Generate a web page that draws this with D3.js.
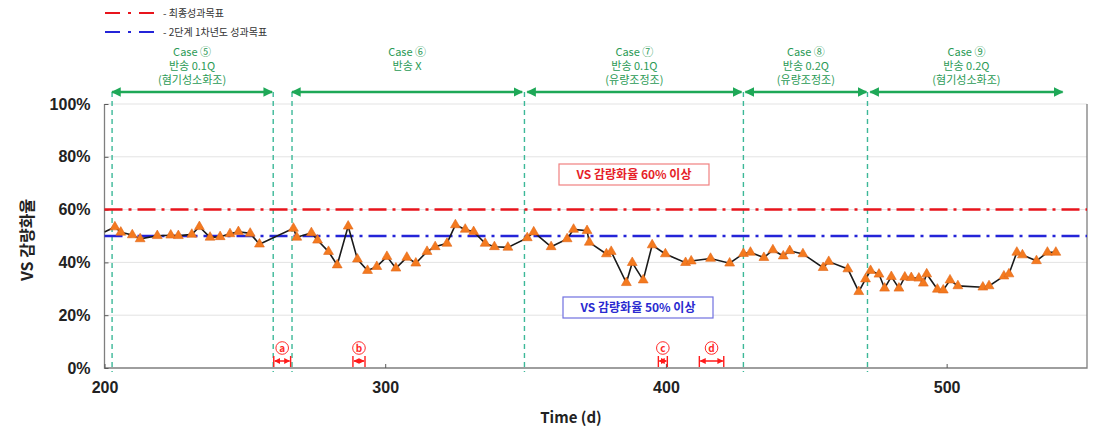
<!DOCTYPE html>
<html>
<head>
<meta charset="utf-8">
<script src="https://cdn.jsdelivr.net/npm/d3@7"></script>
<style>
  body { margin: 0; background: #fff; }
  svg { font-family: "Noto Sans CJK KR", "Noto Sans", sans-serif; }
</style>
</head>
<body>
<div id="chart"></div>
<script>
// measured VS reduction (%), by day
var days = [200.0, 203.7, 205.8, 209.9, 212.7, 218.8, 223.6, 226.3, 231.1, 233.8, 237.6, 241.2, 244.7, 247.7, 251.9, 255.2,
  267.3, 268.5, 273.7, 275.9, 279.8, 282.9, 286.8, 290.1, 293.7, 297.0, 300.6, 303.8, 307.7, 310.9, 314.9, 317.8, 322.0,
  325.0, 328.5, 331.5, 335.6, 338.9, 343.7, 350.6, 352.9, 359.1, 364.8, 367.1, 371.9, 372.7, 378.8, 380.5, 385.9, 388.0,
  391.9, 395.1, 399.8, 407.0, 409.0, 415.9, 422.7, 427.6, 430.1, 434.9, 438.1, 441.8, 444.1, 448.8, 456.0, 458.0, 464.8,
  468.7, 471.1, 472.9, 475.9, 477.9, 480.3, 483.0, 485.1, 487.4, 490.1, 491.7, 492.9, 496.7, 498.8, 501.2, 504.0, 512.9,
  515.1, 520.4, 522.2, 525.0, 527.0, 532.0, 535.9, 538.9];
var vsRate = [51.5, 53.4, 51.4, 50.4, 48.9, 50.1, 50.3, 50.1, 50.6, 53.5, 49.5, 49.7, 50.8, 51.6, 51.0, 46.9,
  52.9, 49.5, 51.2, 48.4, 44.1, 39.0, 53.7, 41.2, 36.9, 38.4, 42.2, 37.8, 41.9, 39.7, 44.1, 45.9, 47.2,
  54.2, 52.5, 51.6, 47.2, 45.9, 45.7, 49.3, 51.5, 45.9, 48.9, 52.5, 52.0, 47.6, 43.2, 44.1, 32.3, 39.9,
  33.3, 46.6, 43.2, 39.9, 40.5, 41.5, 39.7, 43.3, 43.8, 41.8, 44.7, 42.4, 44.4, 43.2, 38.0, 40.3, 37.5,
  28.9, 33.7, 36.9, 35.5, 30.2, 34.6, 30.2, 34.4, 34.2, 34.0, 32.1, 35.6, 29.8, 29.5, 33.3, 31.1, 30.6,
  31.1, 34.8, 35.6, 43.8, 42.8, 40.6, 43.8, 43.8];

// targets
var finalTarget = 60;
var stageTarget = 50;

// case periods
var caseStart = [202.7, 266.8, 350.6, 428.3, 472.8];
var caseEnd = [259.7, 348.8, 426.9, 471.4, 541.3];
var caseLabels = [
  ["Case ⑤", "반송 0.1Q", "(혐기성소화조)"],
  ["Case ⑥", "반송 X"],
  ["Case ⑦", "반송 0.1Q", "(유량조정조)"],
  ["Case ⑧", "반송 0.2Q", "(유량조정조)"],
  ["Case ⑨", "반송 0.2Q", "(혐기성소화조)"]
];
var caseDividers = [202.7, 260.1, 266.8, 349.6, 427.6, 471.8];

// red event markers
var eventNames = ["a", "b", "c", "d"];
var eventStart = [260.3, 288.5, 397.3, 411.9];
var eventEnd = [266.3, 292.8, 400.5, 420.6];

var xTicks = [200, 300, 400, 500];
var yTicks = [0, 20, 40, 60, 80, 100];

var width = 1099, height = 448;
var svg = d3.select("#chart").append("svg").attr("width", width).attr("height", height);

var x = d3.scaleLinear().domain([200, 550]).range([104.5, 1087]);
var y = d3.scaleLinear().domain([0, 100]).range([368, 104]);

svg.append("clipPath").attr("id", "plot")
  .append("rect").attr("x", 104.5).attr("y", 100).attr("width", 1087 - 104.5).attr("height", 270);

// grid
svg.append("g").selectAll("line").data(yTicks.slice(1)).enter().append("line")
  .attr("x1", x(200)).attr("x2", x(550))
  .attr("y1", function(d) { return y(d); }).attr("y2", function(d) { return y(d); })
  .attr("stroke", "#e3e3e3").attr("stroke-width", 1);

// frame
svg.append("path")
  .attr("d", "M" + x(200) + "," + y(100) + "V" + y(0) + "H" + x(550) + "V" + y(100))
  .attr("fill", "none").attr("stroke", "#7f7f7f").attr("stroke-width", 1.3);

// axes
var xAxis = svg.append("g").attr("transform", "translate(0," + y(0) + ")")
  .call(d3.axisBottom(x).tickValues(xTicks).tickSize(-4).tickPadding(14));
var yAxis = svg.append("g").attr("transform", "translate(" + x(200) + ",0)")
  .call(d3.axisLeft(y).tickValues(yTicks).tickSize(4).tickPadding(10).tickFormat(function(d) { return d + "%"; }));
[xAxis, yAxis].forEach(function(g) {
  g.select(".domain").remove();
  g.selectAll(".tick line").attr("stroke", "#595959");
  g.selectAll("text").attr("font-size", 16).attr("font-weight", "bold").attr("fill", "#222");
});
yAxis.selectAll(".tick line").attr("x2", 4);
yAxis.selectAll("text").attr("x", -14);

svg.append("text").attr("x", 571).attr("y", 423).attr("text-anchor", "middle")
  .attr("font-size", 15).attr("font-weight", "bold").attr("fill", "#222").text("Time (d)");
svg.append("text").attr("transform", "translate(33,240)rotate(-90)").attr("text-anchor", "middle")
  .attr("font-size", 16).attr("font-weight", "bold").attr("fill", "#222").text("VS 감량화율");

// case dividers
svg.append("g").selectAll("line").data(caseDividers).enter().append("line")
  .attr("x1", function(d) { return x(d); }).attr("x2", function(d) { return x(d); })
  .attr("y1", 92).attr("y2", y(0) + 4)
  .attr("stroke", "#3cb898").attr("stroke-width", 1.4).attr("stroke-dasharray", "5,4");

// target lines
svg.append("line").attr("x1", x(200)).attr("x2", x(550)).attr("y1", y(finalTarget)).attr("y2", y(finalTarget))
  .attr("stroke", "#e8141c").attr("stroke-width", 2.5).attr("stroke-dasharray", "18,6,3,6");
svg.append("line").attr("x1", x(200)).attr("x2", x(550)).attr("y1", y(stageTarget)).attr("y2", y(stageTarget))
  .attr("stroke", "#2424d8").attr("stroke-width", 2.5).attr("stroke-dasharray", "18,6,3,6");

// case arrows
var defs = svg.append("defs");
defs.append("marker").attr("id", "garrow").attr("viewBox", "0 0 10 10").attr("refX", 9).attr("refY", 5)
  .attr("markerWidth", 4).attr("markerHeight", 4).attr("orient", "auto-start-reverse")
  .append("path").attr("d", "M0,0L10,5L0,10z").attr("fill", "#1ea857");
defs.append("marker").attr("id", "rarrow").attr("viewBox", "0 0 10 10").attr("refX", 9).attr("refY", 5)
  .attr("markerWidth", 4).attr("markerHeight", 4).attr("orient", "auto-start-reverse")
  .append("path").attr("d", "M0,0L10,5L0,10z").attr("fill", "#ff1a1a");

var cases = svg.append("g").selectAll("g").data(caseLabels).enter().append("g");
cases.append("line")
  .attr("x1", function(d, i) { return x(caseStart[i]); })
  .attr("x2", function(d, i) { return x(caseEnd[i]); })
  .attr("y1", 92).attr("y2", 92)
  .attr("stroke", "#1ea857").attr("stroke-width", 2.4)
  .attr("marker-start", "url(#garrow)").attr("marker-end", "url(#garrow)");
cases.each(function(lines, i) {
  var cx = x((caseStart[i] + caseEnd[i]) / 2);
  d3.select(this).selectAll("text").data(lines).enter().append("text")
    .attr("x", cx).attr("y", function(d, j) { return 56 + j * 14; })
    .attr("text-anchor", "middle").attr("font-size", 11).attr("fill", "#2a9a55")
    .text(function(d) { return d; });
});

// data line and markers
var pts = days.map(function(d, i) { return [d, vsRate[i]]; });
var plot = svg.append("g").attr("clip-path", "url(#plot)");
plot.append("path").datum(pts)
  .attr("d", d3.line().x(function(d) { return x(d[0]); }).y(function(d) { return y(d[1]); }))
  .attr("fill", "none").attr("stroke", "#1a1a1a").attr("stroke-width", 1.6);
plot.selectAll(".pt").data(pts.slice(1)).enter().append("path")
  .attr("class", "pt")
  .attr("d", d3.symbol().type(d3.symbolTriangle).size(42))
  .attr("transform", function(d) { return "translate(" + x(d[0]) + "," + y(d[1]) + ")"; })
  .attr("fill", "#f47a1f").attr("stroke", "#e0661a").attr("stroke-width", 0.6);

// annotation boxes
function labelBox(cx, cy, w, txt, col, border) {
  svg.append("rect").attr("x", cx - w / 2).attr("y", cy - 10).attr("width", w).attr("height", 21)
    .attr("fill", "#fff").attr("stroke", border).attr("stroke-width", 1.2);
  svg.append("text").attr("x", cx).attr("y", cy + 5).attr("text-anchor", "middle")
    .attr("font-size", 12).attr("font-weight", "bold").attr("fill", col).text(txt);
}
labelBox(634, 174, 150, "VS 감량화율 60% 이상", "#e61e28", "#f08080");
labelBox(638, 307, 150, "VS 감량화율 50% 이상", "#2a2ad0", "#7070e0");

// event markers
var ev = svg.append("g").selectAll("g").data(eventNames).enter().append("g");
ev.append("line")
  .attr("x1", function(d, i) { return x(eventStart[i]) + 1; })
  .attr("x2", function(d, i) { return x(eventEnd[i]) - 1; })
  .attr("y1", 361).attr("y2", 361)
  .attr("stroke", "#ff1a1a").attr("stroke-width", 1.5)
  .attr("marker-start", "url(#rarrow)").attr("marker-end", "url(#rarrow)");
ev.each(function(d, i) {
  var g = d3.select(this);
  [eventStart[i], eventEnd[i]].forEach(function(v) {
    g.append("line").attr("x1", x(v)).attr("x2", x(v)).attr("y1", 356).attr("y2", 367)
      .attr("stroke", "#ff1a1a").attr("stroke-width", 1.4);
  });
  var cx = x((eventStart[i] + eventEnd[i]) / 2);
  g.append("circle").attr("cx", cx).attr("cy", 348).attr("r", 6.3)
    .attr("fill", "#fff").attr("stroke", "#ff2a2a").attr("stroke-width", 1);
  g.append("text").attr("x", cx).attr("y", 351.5).attr("text-anchor", "middle")
    .attr("font-size", 10).attr("font-weight", "bold").attr("fill", "#ff2a2a").text(d);
});

// legend
var legendNames = ["- 최종성과목표", "- 2단계 1차년도 성과목표"];
var legendColors = ["#e8141c", "#2424d8"];
var leg = svg.append("g").selectAll("g").data(legendNames).enter().append("g")
  .attr("transform", function(d, i) { return "translate(0," + (13 + i * 19) + ")"; });
leg.append("line").attr("x1", 105).attr("x2", 155).attr("y1", 0).attr("y2", 0)
  .attr("stroke", function(d, i) { return legendColors[i]; }).attr("stroke-width", 1.8)
  .attr("stroke-dasharray", "15,8,3,8");
leg.append("text").attr("x", 163).attr("y", 3.5).attr("font-size", 10).attr("fill", "#333")
  .text(function(d) { return d; });
</script>
</body>
</html>
